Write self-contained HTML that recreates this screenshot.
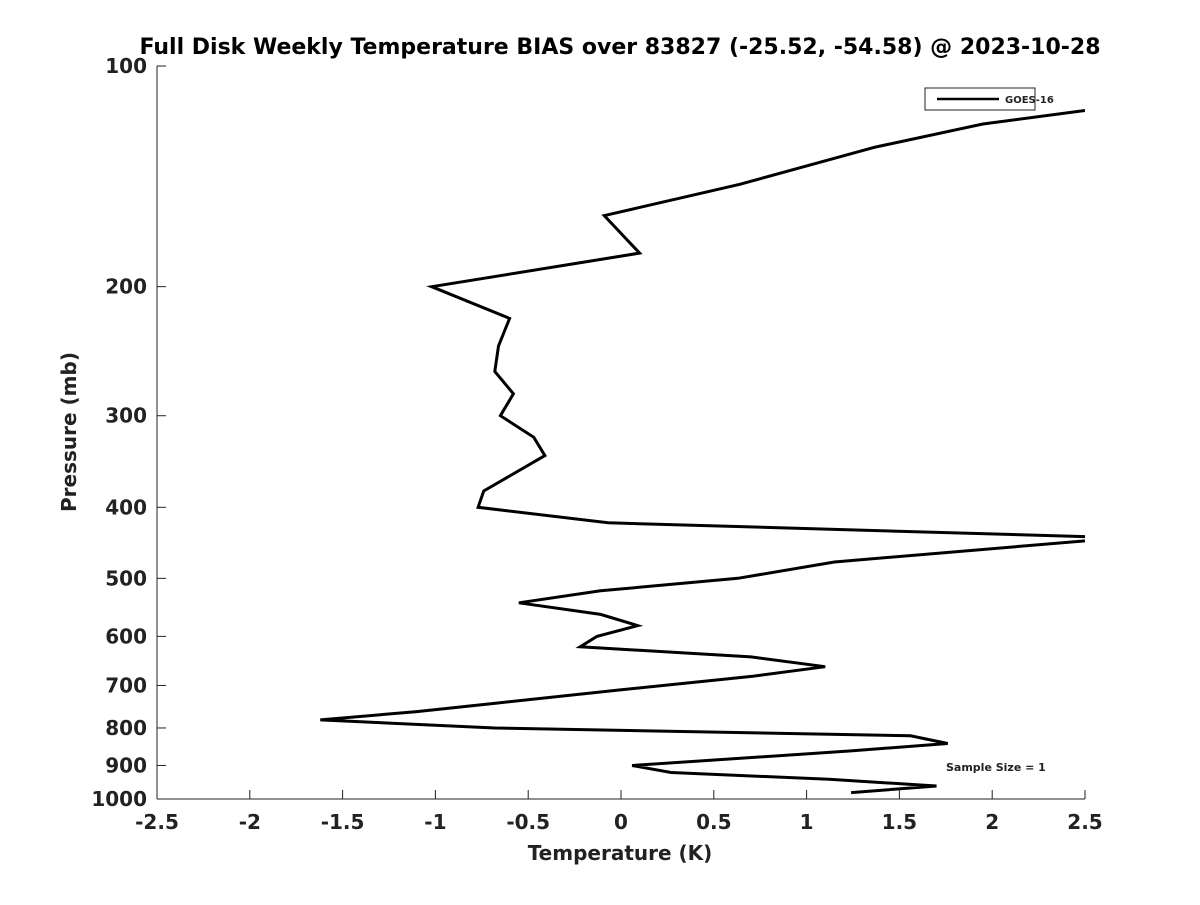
<!DOCTYPE html>
<html><head><meta charset="utf-8"><style>
body{margin:0;background:#fff;}
svg text{font-family:"DejaVu Sans","Liberation Sans",sans-serif;font-weight:bold;fill:#222;}
</style></head><body>
<svg width="1200" height="900" xmlns="http://www.w3.org/2000/svg">
<rect width="1200" height="900" fill="#fff"/>
<text x="620" y="54" text-anchor="middle" font-size="22" style="fill:#000">Full Disk Weekly Temperature BIAS over 83827 (-25.52, -54.58) @ 2023-10-28</text>
<defs><clipPath id="pc"><rect x="157" y="66" width="928" height="733"/></clipPath></defs>
<g id="axes"></g>
<g id="series" clip-path="url(#pc)"></g>
<text x="620" y="860" text-anchor="middle" font-size="20">Temperature (K)</text>
<text transform="translate(76,432) rotate(-90)" text-anchor="middle" font-size="20">Pressure (mb)</text>
<g>
<rect x="925" y="88" width="110" height="22" fill="#fff" stroke="#222" stroke-width="1"/>
<line x1="937" y1="99" x2="999" y2="99" stroke="#000" stroke-width="2.5"/>
<text x="1005" y="103" font-size="10">GOES-16</text>
</g>
<text x="946" y="771" font-size="11">Sample Size = 1</text>
</svg>
<script>
const xTicks=[-2.5,-2,-1.5,-1,-0.5,0,0.5,1,1.5,2,2.5];
const xTickLabels=["-2.5","-2","-1.5","-1","-0.5","0","0.5","1","1.5","2","2.5"];
const yTicks=[100,200,300,400,500,600,700,800,900,1000];
const biasValues=[2.5,1.95,1.37,0.64,-0.09,0.10,-1.02,-0.60,-0.66,-0.68,-0.58,-0.65,-0.47,-0.41,-0.74,-0.77,-0.07,2.7,1.15,0.63,-0.11,-0.55,-0.11,0.09,-0.13,-0.22,0.70,1.10,0.71,-0.01,-0.67,-1.10,-1.62,-0.68,1.56,1.76,1.23,0.06,0.27,1.12,1.70,1.24];
const pressureLevels=[115,120,129,145,160,180,200,221,241,261,280,300,321,340,380,400,420,440,475,500,520,540,560,580,600,620,640,660,680,710,740,760,780,800,820,840,860,900,920,940,960,980];
const X0=157,X1=1085,Y0=66,Y1=799;
const xs=v=>X0+(v+2.5)/5*(X1-X0);
const ys=p=>Y0+Math.log10(p/100)*(Y1-Y0);
const NS="http://www.w3.org/2000/svg";
const axes=document.getElementById('axes');
function mk(t,a,parent){const e=document.createElementNS(NS,t);for(const k in a)e.setAttribute(k,a[k]);parent.appendChild(e);return e;}
const xa=mk('line',{x1:X0,y1:Y1,x2:X1,y2:Y1,stroke:'#222','stroke-width':1},axes);


const ya=mk('line',{x1:X0,y1:Y0,x2:X0,y2:Y1,stroke:'#222','stroke-width':1},axes);


xTicks.forEach((v,i)=>{const x=xs(v);
 mk('line',{x1:x,y1:Y1,x2:x,y2:Y1-9,stroke:'#222'},axes);
 const t=mk('text',{x:x,y:Y1+30,'text-anchor':'middle','font-size':20},axes);t.textContent=xTickLabels[i];
 
 
});
yTicks.forEach(p=>{const y=ys(p);
 mk('line',{x1:X0,y1:y,x2:X0+9,y2:y,stroke:'#222'},axes);
 const t=mk('text',{x:X0-10,y:y+7,'text-anchor':'end','font-size':20},axes);t.textContent=String(p);
 
 
});
const pts=biasValues.map((v,i)=>xs(v).toFixed(1)+','+ys(pressureLevels[i]).toFixed(1)).join(' ');
const line=mk('polyline',{points:pts,fill:'none',stroke:'#000','stroke-width':3,'stroke-linejoin':'miter'},document.getElementById('series'));


</script>
</body></html>
